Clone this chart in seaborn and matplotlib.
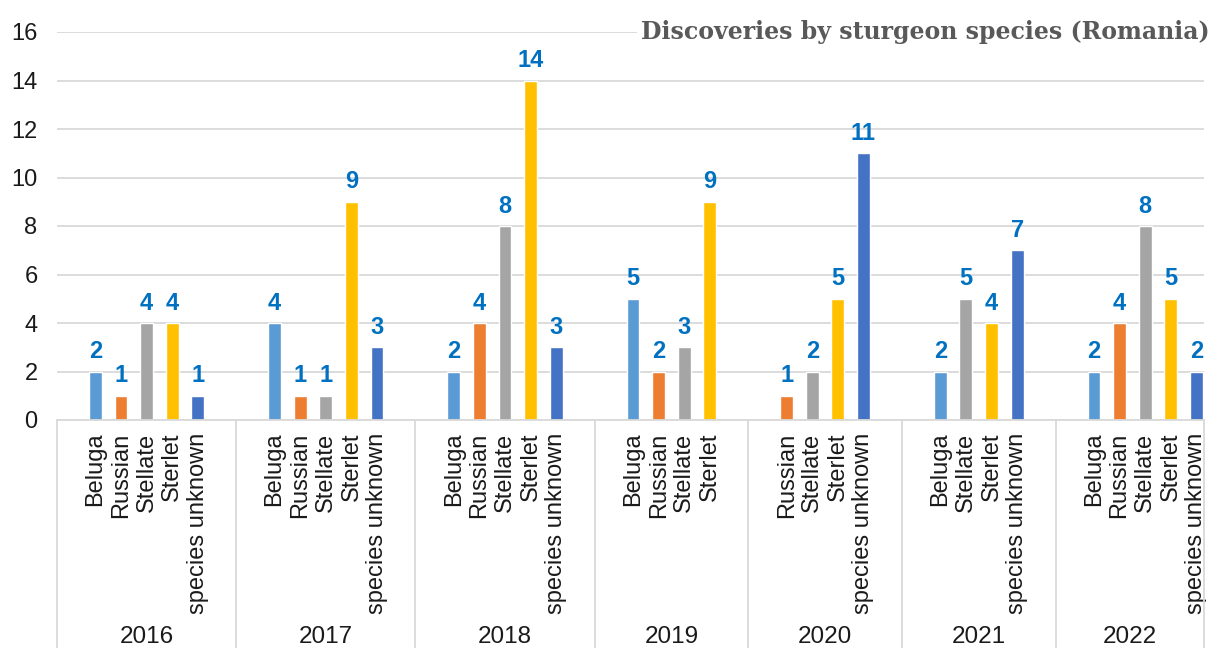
import pandas as pd
import seaborn as sns
import matplotlib.pyplot as plt
import matplotlib.transforms as mtransforms

# data
years = ['2016', '2017', '2018', '2019', '2020', '2021', '2022']
species_by_year = [
    ['Beluga', 'Russian', 'Stellate', 'Sterlet', 'species unknown'],
    ['Beluga', 'Russian', 'Stellate', 'Sterlet', 'species unknown'],
    ['Beluga', 'Russian', 'Stellate', 'Sterlet', 'species unknown'],
    ['Beluga', 'Russian', 'Stellate', 'Sterlet'],
    ['Russian', 'Stellate', 'Sterlet', 'species unknown'],
    ['Beluga', 'Stellate', 'Sterlet', 'species unknown'],
    ['Beluga', 'Russian', 'Stellate', 'Sterlet', 'species unknown'],
]
counts_by_year = [
    [2, 1, 4, 4, 1],
    [4, 1, 1, 9, 3],
    [2, 4, 8, 14, 3],
    [5, 2, 3, 9],
    [1, 2, 5, 11],
    [2, 5, 4, 7],
    [2, 4, 8, 5, 2],
]
species_order = ['Beluga', 'Russian', 'Stellate', 'Sterlet', 'species unknown']
species_colors = ['#5B9BD5', '#ED7D31', '#A5A5A5', '#FFC000', '#4472C4']
title = 'Discoveries by sturgeon species (Romania)'


def build_frame():
    ''' one row per bar, x position = slot inside its year group '''
    rows = []
    bounds = []
    start = 0.0
    for yr, sp, ct in zip(years, species_by_year, counts_by_year):
        for k, (s, c) in enumerate(zip(sp, ct)):
            rows.append({'pos': start + 1.5 + k, 'year': yr, 'species': s, 'count': c})
        end = start + len(sp) + 2
        bounds.append((start, end))
        start = end
    return pd.DataFrame(rows), bounds


df, bounds = build_frame()
x_right = 44.8  # chart is cut off on the right like the original

sns.set_theme(style='white')
plt.rcParams['font.family'] = ['Liberation Sans', 'DejaVu Sans']

fig = plt.figure(figsize=(12.15, 6.48), dpi=100)
ax = fig.add_axes([57 / 1215, 228 / 648, 1147 / 1215, 388 / 648])

sns.barplot(data=df, x='pos', y='count', hue='species', hue_order=species_order,
            palette=dict(zip(species_order, species_colors)), native_scale=True,
            dodge=False, width=0.5, legend=False, saturation=1, ax=ax, orient='x')

for cont in ax.containers:
    ax.bar_label(cont, fmt='{:.0f}', padding=6, color='#0070C0',
                 fontweight='bold', fontsize=17)

ax.set_xlim(0, x_right)
ax.set_ylim(0, 16)
ax.set_yticks(range(0, 17, 2))
ax.yaxis.grid(True, color='#D9D9D9', linewidth=1.3)
ax.set_axisbelow(True)
for side in ['left', 'right', 'top']:
    ax.spines[side].set_visible(False)
ax.spines['bottom'].set_color('#D9D9D9')
ax.spines['bottom'].set_linewidth(1.3)

ax.set_xticks(df['pos'])
ax.set_xticklabels(df['species'], rotation=90, va='top', ha='center')
ax.tick_params(axis='x', length=0, pad=9, labelsize=17, labelcolor='#1a1a1a')
ax.tick_params(axis='y', length=0, pad=14, labelsize=17, labelcolor='#1a1a1a')
ax.set_xlabel('')
ax.set_ylabel('')

# year group separators and labels below the species labels
trans = mtransforms.blended_transform_factory(ax.transData, ax.transAxes)
edges = sorted(set([b for pair in bounds for b in pair] + [x_right]))
for e in edges:
    if e <= x_right:
        ax.plot([e, e], [0, -0.62], transform=trans, color='#D9D9D9',
                linewidth=1.3, clip_on=False)
for yr, (a, b) in zip(years, bounds):
    b = min(b, x_right)
    ax.text((a + b) / 2, -0.56, yr, transform=trans, ha='center', va='center',
            fontsize=17.5, color='#1a1a1a')

fig.text(1210 / 1215, 1 - 32 / 648, title, ha='right', va='center',
         fontsize=17, fontweight='bold', color='#595959', family='DejaVu Serif',
         bbox=dict(facecolor='white', edgecolor='none', pad=3))

plt.savefig('out.png', dpi=100)
